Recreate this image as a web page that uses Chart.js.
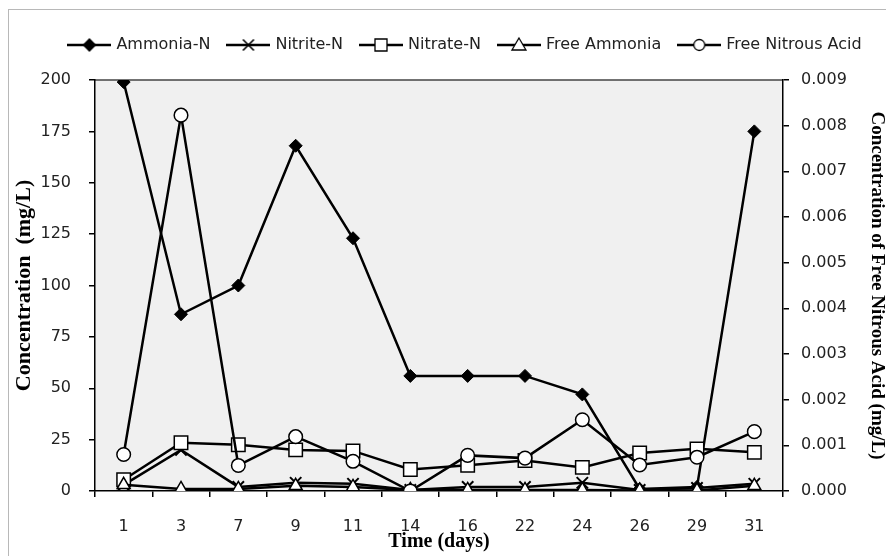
<!DOCTYPE html>
<html>
<head>
<meta charset="utf-8">
<script src="https://cdn.jsdelivr.net/npm/chart.js@4.4.0/dist/chart.umd.min.js"></script>
<style>
html,body{margin:0;padding:0;background:#fff;}
#wrap{width:886px;height:556px;position:relative;}
canvas{display:block;}
</style>
</head>
<body>
<div id="wrap"><canvas id="c" width="886" height="556"></canvas></div>
<script>
// ---- data ----
const days = ['1', '3', '7', '9', '11', '14', '16', '22', '24', '26', '29', '31'];
const ammoniaN = [199, 86, 100, 168, 123, 56, 56, 56, 47, 1, 2, 175];
const nitriteN = [3, 20, 2, 4, 3.5, 0.5, 2, 2, 4, 0.5, 1.5, 3.5];
const nitrateN = [5.5, 23.5, 22.5, 20, 19.5, 10.5, 12.5, 14.8, 11.5, 18.5, 20.5, 18.8];
const freeAmmonia = [3, 1, 1, 2.5, 2, 0.5, 0.5, 0.5, 0.5, 0.3, 0.3, 2.5];
const freeNitrousAcid = [0.0008, 0.00823, 0.00056, 0.00119, 0.00065, 0.0, 0.00078, 0.00072, 0.00156, 0.00057, 0.00074, 0.0013];
const seriesNames = ['Ammonia-N', 'Nitrite-N', 'Nitrate-N', 'Free Ammonia', 'Free Nitrous Acid'];
const leftTicks = {min: 0, max: 200, step: 25};
const rightTicks = {min: 0, max: 0.009, step: 0.001};

// ---- legend icons (line + marker) ----
function makeIcon(kind) {
  const c = document.createElement('canvas');
  c.width = 44; c.height = 18;
  const g = c.getContext('2d');
  const cx = 22, cy = 9;
  g.strokeStyle = '#000'; g.lineWidth = 2.5;
  g.beginPath(); g.moveTo(0, cy); g.lineTo(44, cy); g.stroke();
  g.lineWidth = 1.3;
  g.beginPath();
  if (kind === 'diamond') {
    g.moveTo(cx, cy - 6); g.lineTo(cx + 6, cy); g.lineTo(cx, cy + 6); g.lineTo(cx - 6, cy); g.closePath();
    g.fillStyle = '#000'; g.fill(); g.stroke();
  } else if (kind === 'x') {
    g.lineWidth = 1.6;
    g.moveTo(cx - 5.5, cy - 5.5); g.lineTo(cx + 5.5, cy + 5.5);
    g.moveTo(cx + 5.5, cy - 5.5); g.lineTo(cx - 5.5, cy + 5.5);
    g.stroke();
  } else if (kind === 'square') {
    g.rect(cx - 6, cy - 6, 12, 12); g.fillStyle = '#fff'; g.fill(); g.stroke();
  } else if (kind === 'triangle') {
    g.moveTo(cx, cy - 7); g.lineTo(cx + 7, cy + 5); g.lineTo(cx - 7, cy + 5); g.closePath();
    g.fillStyle = '#fff'; g.fill(); g.stroke();
  } else {
    g.arc(cx, cy, 5.5, 0, Math.PI * 2); g.fillStyle = '#fff'; g.fill(); g.stroke();
  }
  return c;
}
const legendIcons = [makeIcon('diamond'), makeIcon('x'), makeIcon('square'), makeIcon('triangle'), makeIcon('circle')];

const bgPlugin = {
  id: 'bgPlugin',
  afterLayout(chart) {
    const L = chart.legend;
    if (L) { L.left += 18; L.right += 18; }
  },
  beforeDraw(chart) {
    const {ctx, chartArea: a} = chart;
    ctx.save();
    ctx.fillStyle = '#fff';
    ctx.fillRect(0, 0, chart.width, chart.height);
    ctx.strokeStyle = '#b8b8b8';
    ctx.lineWidth = 1;
    ctx.strokeRect(8.5, 9.5, chart.width + 20, chart.height + 20);
    ctx.fillStyle = '#f0f0f0';
    ctx.fillRect(a.left, a.top, a.right - a.left, a.bottom - a.top);
    ctx.strokeStyle = '#444';
    ctx.lineWidth = 1.5;
    ctx.beginPath();
    ctx.moveTo(a.left, a.top);
    ctx.lineTo(a.right, a.top);
    ctx.stroke();
    ctx.restore();
  }
};

const tickFont = {family: 'DejaVu Sans', size: 16};
const serif = 'Liberation Serif';

const common = {borderColor: '#000', borderWidth: 2.5, tension: 0, pointBorderColor: '#000'};
const datasets = [
  Object.assign({label: seriesNames[0], data: ammoniaN, yAxisID: 'y', pointStyle: 'rectRot', pointRadius: 6.5, pointBackgroundColor: '#000', pointBorderWidth: 1, order: 4}, common),
  Object.assign({label: seriesNames[1], data: nitriteN, yAxisID: 'y', pointStyle: 'crossRot', pointRadius: 8, pointBackgroundColor: '#000', pointBorderWidth: 2, order: 3}, common),
  Object.assign({label: seriesNames[2], data: nitrateN, yAxisID: 'y', pointStyle: 'rect', pointRadius: 9.5, pointBackgroundColor: '#fff', pointBorderWidth: 1.5, order: 2}, common),
  Object.assign({label: seriesNames[3], data: freeAmmonia, yAxisID: 'y', pointStyle: 'triangle', pointRadius: 7.5, pointBackgroundColor: '#fff', pointBorderWidth: 1.5, order: 1}, common),
  Object.assign({label: seriesNames[4], data: freeNitrousAcid, yAxisID: 'y2', pointStyle: 'circle', pointRadius: 6.8, pointBackgroundColor: '#fff', pointBorderWidth: 1.5, order: 0}, common)
];

new Chart(document.getElementById('c'), {
  type: 'line',
  data: {labels: days, datasets: datasets},
  plugins: [bgPlugin],
  options: {
    responsive: false,
    animation: false,
    devicePixelRatio: 1,
    layout: {padding: {left: 10, right: 0, top: 18, bottom: 0}},
    plugins: {
      tooltip: {enabled: false},
      subtitle: {display: true, text: ' ', position: 'top', weight: 500, padding: 0, font: {size: 10, lineHeight: 1.7}},
      legend: {
        position: 'top',
        align: 'center',
        labels: {
          usePointStyle: true,
          pointStyleWidth: 38,
          padding: 19,
          color: '#222',
          font: {family: 'DejaVu Sans', size: 16},
          generateLabels(chart) {
            const items = Chart.defaults.plugins.legend.labels.generateLabels(chart);
            items.sort((a, b) => a.datasetIndex - b.datasetIndex);
            items.forEach(it => { it.pointStyle = legendIcons[it.datasetIndex]; it.lineWidth = 0; });
            return items;
          }
        }
      }
    },
    scales: {
      x: {
        type: 'category',
        offset: true,
        afterFit(s) { s.height = 65; },
        grid: {offset: true, drawOnChartArea: false, drawTicks: true, tickLength: 6, color: '#000', lineWidth: 1.5},
        border: {display: true, color: '#000', width: 1.5},
        ticks: {font: tickFont, color: '#222', padding: 20, maxRotation: 0, autoSkip: false},
        title: {display: true, text: 'Time (days)', color: '#000', font: {family: serif, size: 20, weight: 'bold', lineHeight: 1}, padding: {top: 0, bottom: 4}}
      },
      y: {
        position: 'left',
        min: leftTicks.min, max: leftTicks.max,
        afterFit(s) { s.width = 85; },
        grid: {drawOnChartArea: false, drawTicks: true, tickLength: 6, color: '#000', lineWidth: 1.5},
        border: {display: true, color: '#000', width: 1.5},
        ticks: {stepSize: leftTicks.step, font: tickFont, color: '#222', padding: 18},
        title: {display: true, text: 'Concentration  (mg/L)', color: '#000', font: {family: serif, size: 22, weight: 'bold', lineHeight: 1}, padding: {top: 3.5, bottom: 0}}
      },
      y2: {
        position: 'right',
        min: rightTicks.min, max: rightTicks.max,
        afterFit(s) { s.width = 103; },
        grid: {drawOnChartArea: false, drawTicks: true, tickLength: 6, color: '#000', lineWidth: 1.5},
        border: {display: true, color: '#000', width: 1.5},
        ticks: {stepSize: rightTicks.step, font: tickFont, color: '#222', padding: 12, callback: v => Number(v).toFixed(3)},
        title: {display: true, text: 'Concentration of Free Nitrous Acid (mg/L)', color: '#000', font: {family: serif, size: 19, weight: 'bold', lineHeight: 1}, padding: {top: 0, bottom: 0}}
      }
    }
  }
});
</script>
</body>
</html>
